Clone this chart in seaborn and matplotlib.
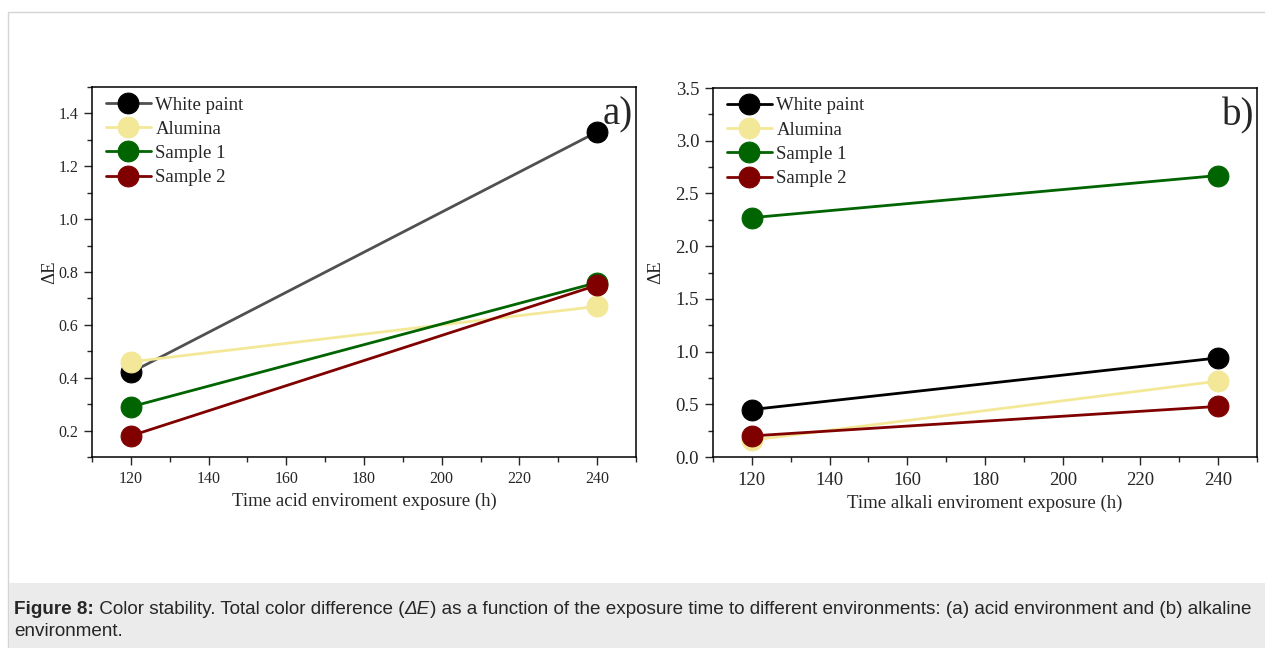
import numpy as np
import pandas as pd
import matplotlib.pyplot as plt
import seaborn as sns
from matplotlib.patches import Rectangle
from matplotlib.ticker import MultipleLocator

# data
times = [120, 240]
materials = ["White paint", "Alumina", "Sample 1", "Sample 2"]
acid_white = [0.42, 1.33]
acid_alumina = [0.46, 0.67]
acid_sample1 = [0.29, 0.76]
acid_sample2 = [0.18, 0.75]
alkali_white = [0.45, 0.94]
alkali_alumina = [0.16, 0.72]
alkali_sample1 = [2.27, 2.67]
alkali_sample2 = [0.20, 0.48]

sns.set_style("ticks")
plt.rcParams['font.family'] = ['Liberation Serif', 'DejaVu Serif']

def make_df(vals):
    rows = []
    for name, v in zip(materials, vals):
        for t, e in zip(times, v):
            rows.append({"time": t, "dE": e, "material": name})
    return pd.DataFrame(rows)

acid = make_df([acid_white, acid_alumina, acid_sample1, acid_sample2])
alkali = make_df([alkali_white, alkali_alumina, alkali_sample1, alkali_sample2])

marker_cols = {"White paint": "black", "Alumina": "#f3e897",
               "Sample 1": "#006400", "Sample 2": "#800000"}

fig = plt.figure(figsize=(12.65, 6.48), dpi=100)
W, H = 1265, 648

# page frame + caption band
fig.patches.append(Rectangle((8 / W, 0), 1.0, 1 - 12 / H, transform=fig.transFigure,
                             facecolor='white', edgecolor='#d4d4d4', lw=1, zorder=-2))
fig.patches.append(Rectangle((9 / W, 0), 1.0, (H - 583) / H, transform=fig.transFigure,
                             facecolor='#ebebeb', edgecolor='none', zorder=-1))

ax1 = fig.add_axes([92 / W, 1 - 457 / H, (636 - 92) / W, (457 - 87) / H])
ax2 = fig.add_axes([713 / W, 1 - 457 / H, (1257 - 713) / W, (457 - 88) / H])

def draw(ax, df, line_cols, xlabel, ylim, major, minor, tag, tick_fs, ypad, xpad, tpad):
    for name in materials:
        sub = df[df.material == name]
        sns.lineplot(data=sub, x="time", y="dE", ax=ax, color=line_cols[name],
                     lw=2, marker='o', markersize=15, markerfacecolor=marker_cols[name],
                     markeredgecolor=marker_cols[name], label=name)
    ax.set_xlim(110, 250)
    ax.set_ylim(*ylim)
    ax.xaxis.set_major_locator(MultipleLocator(20))
    ax.xaxis.set_minor_locator(MultipleLocator(10))
    ax.yaxis.set_major_locator(MultipleLocator(major))
    ax.yaxis.set_minor_locator(MultipleLocator(minor))
    ax.tick_params(which='major', length=6, width=1, labelsize=tick_fs, direction='out', pad=4)
    ax.tick_params(axis='x', which='major', pad=tpad)
    ax.tick_params(which='minor', length=3.5, width=1, direction='out')
    for s in ax.spines.values():
        s.set_linewidth(1.1)
        s.set_color('black')
    ax.set_xlabel(xlabel, fontsize=13.5, labelpad=xpad)
    ax.set_ylabel("ΔE", fontsize=13.5, labelpad=ypad)
    ax.legend(loc='upper left', bbox_to_anchor=(0.008, 1.0), frameon=False, fontsize=13.5,
              handlelength=2.4, handletextpad=0.25, labelspacing=0.38,
              borderaxespad=0.5, borderpad=0.0)
    ax.text(0.995, 0.975, tag, transform=ax.transAxes, ha='right', va='top', fontsize=28)

draw(ax1, acid, {"White paint": "#505050", "Alumina": "#f3e897",
                 "Sample 1": "#006400", "Sample 2": "#800000"},
     "Time acid enviroment exposure (h)", (0.1, 1.5), 0.2, 0.1, "a)", 11.5, 0, 4, 4)
draw(ax2, alkali, marker_cols, "Time alkali enviroment exposure (h)", (0, 3.5), 0.5, 0.25, "b)",
     13.5, 8, 4, 5)

# caption, drawn piece by piece
cap_font = ['Liberation Sans', 'DejaVu Sans']
cap_fs = 13.55
fig.canvas.draw()
r = fig.canvas.get_renderer()
x = 14 / W
y = 1 - 609 / H
pieces = [("Figure 8:", 'bold', 'normal'),
          (" Color stability. Total color difference (", 'normal', 'normal'),
          ("ΔE", 'normal', 'italic'),
          (") as a function of the exposure time to different environments: (a) acid environment and (b) alkaline",
           'normal', 'normal')]
for txt, wgt, sty in pieces:
    t = fig.text(x, y, txt, fontsize=cap_fs, family=cap_font, weight=wgt, style=sty,
                 va='center', ha='left')
    bb = t.get_window_extent(renderer=r)
    x += bb.width / W
fig.text(14 / W, 1 - 632 / H, "environment.", fontsize=cap_fs, family=cap_font,
         va='center', ha='left')

fig.savefig("out.png", dpi=100)
